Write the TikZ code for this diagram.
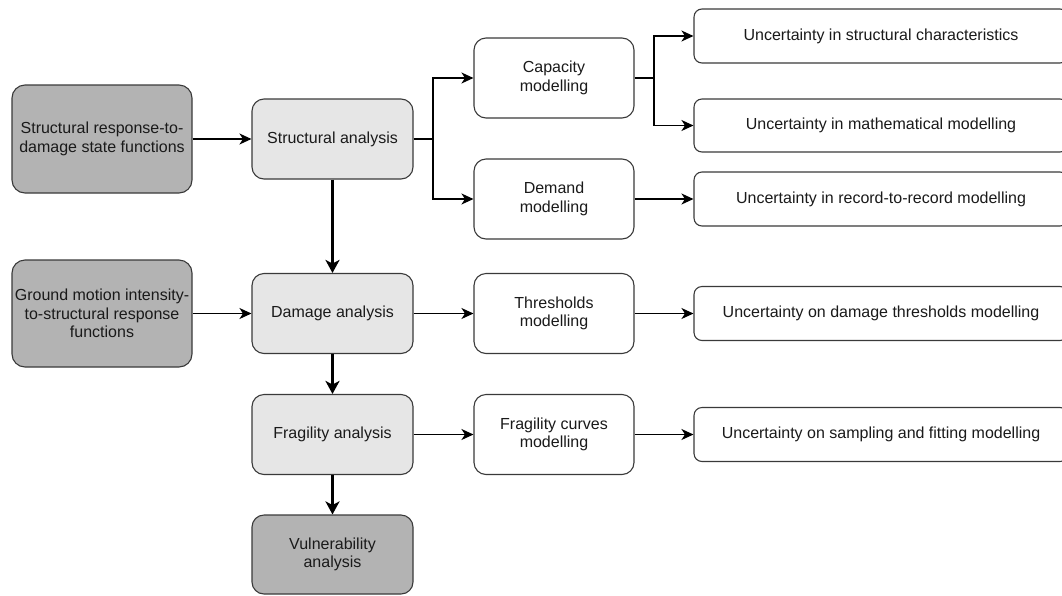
\documentclass[tikz,border=0pt]{standalone}
\usepackage{fontspec}
\setmainfont{Liberation Sans}
\usetikzlibrary{arrows.meta,positioning}
\definecolor{darkfill}{HTML}{B3B3B3}
\definecolor{lightfill}{HTML}{E6E6E6}
\definecolor{bordercol}{HTML}{3A3A3A}
\definecolor{textcol}{HTML}{1A1A1A}
\tikzset{
  base/.style={draw=bordercol, line width=1.1pt, align=center, text=textcol,
    font=\fontsize{16}{18.4}\selectfont, inner sep=0pt},
  darkbox/.style={base, fill=darkfill, rounded corners=13pt, minimum width=180pt, minimum height=108pt},
  lightbox/.style={base, fill=lightfill, rounded corners=12pt, minimum width=161pt, minimum height=80pt},
  modbox/.style={base, fill=white, rounded corners=12pt, minimum width=160pt, minimum height=80pt},
  uncbox/.style={base, fill=white, rounded corners=8pt, minimum width=374pt, minimum height=54pt},
  thinarrow/.style={line width=1.2pt, draw=black, -{Stealth[length=12pt,width=11pt,inset=3.5pt]}},
  thinline/.style={line width=1.2pt, draw=black},
  thickarrow/.style={line width=3pt, draw=black, -{Stealth[length=13pt,width=14pt,inset=3.5pt]}}
}
\begin{document}
\begin{tikzpicture}[x=1pt,y=-1pt]
\useasboundingbox (0,0) rectangle (1062,595);
\clip (0,0) rectangle (1062,595);
% left inputs
\node[darkbox] (srd) at (102,139) {Structural response-to-\\damage state functions};
\node[darkbox, minimum height=107pt] (gm) at (102,313.5) {Ground motion intensity-\\to-structural response\\functions};
% main chain
\node[lightbox] (sa) at (332.5,139) {Structural analysis};
\node[lightbox] (da) at (332.5,313.5) {Damage analysis};
\node[lightbox] (fa) at (332.5,434.5) {Fragility analysis};
\node[darkbox, rounded corners=12pt, minimum width=161pt, minimum height=79pt] (va) at (332.5,554.5) {Vulnerability\\analysis};
% modelling boxes
\node[modbox] (cap) at (554,78) {Capacity\\modelling};
\node[modbox] (dem) at (554,199) {Demand\\modelling};
\node[modbox] (thr) at (554,313.5) {Thresholds\\modelling};
\node[modbox] (fcm) at (554,434.5) {Fragility curves\\modelling};
% uncertainty boxes
\node[uncbox] (u1) at (881,36) {Uncertainty in structural characteristics};
\node[uncbox, minimum height=53pt] (u2) at (881,125.5) {Uncertainty in mathematical modelling};
\node[uncbox] (u3) at (881,199) {Uncertainty in record-to-record modelling};
\node[uncbox] (u4) at (881,313.5) {Uncertainty on damage thresholds modelling};
\node[uncbox] (u5) at (881,434.5) {Uncertainty on sampling and fitting modelling};
% junction points
\coordinate (j1) at (433,139);
\coordinate (j2) at (654,78);
% connectors
\draw[thinarrow] (srd.east) -- (sa.west);
\draw[thinarrow] (gm.east) -- (da.west);
\draw[thickarrow] (sa.south) -- (da.north);
\draw[thickarrow] (da.south) -- (fa.north);
\draw[thickarrow] (fa.south) -- (va.north);
\draw[thinline] (sa.east) -- (j1);
\draw[thinarrow] (j1) |- (cap.west);
\draw[thinarrow] (j1) |- (dem.west);
\draw[thinline] (cap.east) -- (j2);
\draw[thinarrow] (j2) |- (u1.west);
\draw[thinarrow] (j2) |- (u2.west);
\draw[thinarrow] (dem.east) -- (u3.west);
\draw[thinarrow] (da.east) -- (thr.west);
\draw[thinarrow] (thr.east) -- (u4.west);
\draw[thinarrow] (fa.east) -- (fcm.west);
\draw[thinarrow] (fcm.east) -- (u5.west);
\end{tikzpicture}
\end{document}
